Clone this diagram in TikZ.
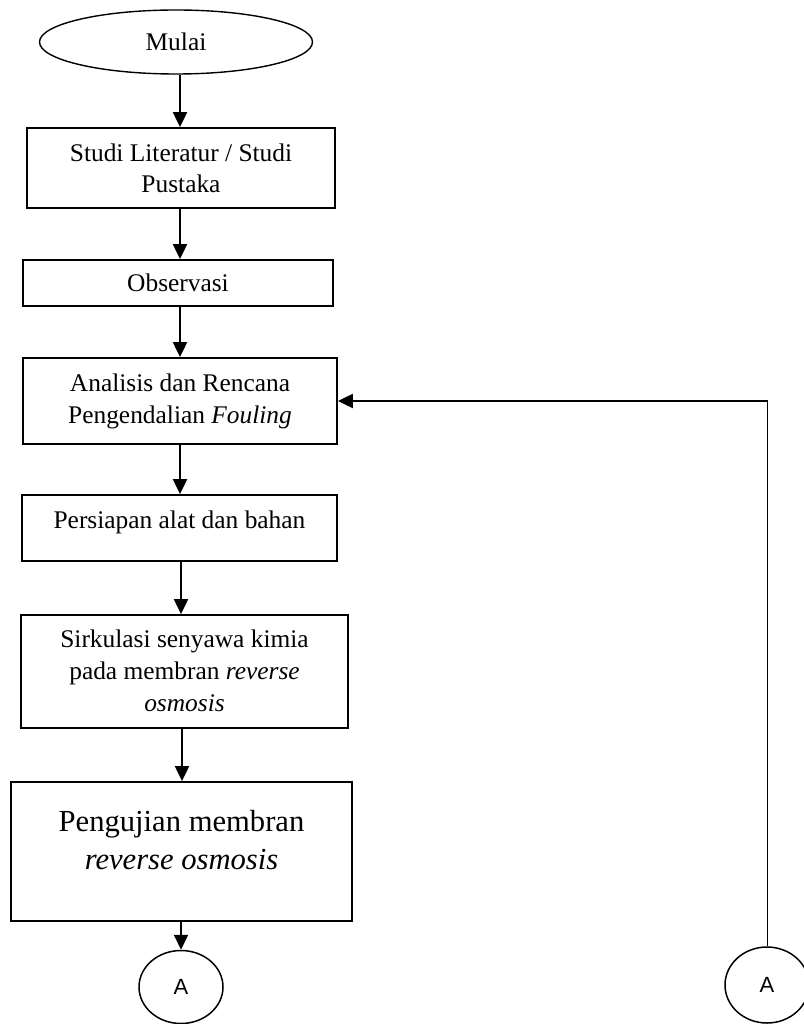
\documentclass[tikz,border=0pt]{standalone}
\usepackage{fontspec}
\setmainfont{Liberation Serif}
\newfontfamily\arialf{Liberation Sans}
\usetikzlibrary{shapes.geometric,arrows.meta,calc}
\begin{document}
\begin{tikzpicture}[x=1pt,y=-1pt,
  box/.style={draw,line width=1.8pt,rectangle,inner sep=0pt},
  txt/.style={align=center,inner sep=0pt,font=\fontsize{25.4}{31}\selectfont},
  arr/.style={line width=2pt,-{Triangle[width=14pt,length=15pt]}},
  conn/.style={draw,line width=1.5pt,ellipse,inner sep=0pt,font=\arialf\fontsize{22}{24}\selectfont}]
\useasboundingbox (0,0) rectangle (803,1024);
% start
\node[draw,line width=1.4pt,ellipse,minimum width=273pt,minimum height=64pt,inner sep=0pt,
  font=\fontsize{25.4}{31}\selectfont] (s) at (176,42) {Mulai};
% boxes
\node[box,minimum width=308pt,minimum height=80pt] (b2) at (181,168) {};
\node[txt] (t2) at (b2.center) {Studi Literatur / Studi\\Pustaka};
\node[box,minimum width=310pt,minimum height=46pt] (b3) at (178,283) {};
\node[txt] (t3) at (b3.center) {Observasi};
\node[box,minimum width=314pt,minimum height=86pt] (b4) at (180,401) {};
\node[txt,font=\fontsize{25.4}{32}\selectfont] (t4) at (b4.center) {Analisis dan Rencana\\Pengendalian \textit{Fouling}};
\node[box,minimum width=315pt,minimum height=66pt] (b5) at (179.5,528) {};
\node[txt,anchor=base] (t5) at ($(b5.north)+(0,34)$) {Persiapan alat dan bahan};
\node[box,minimum width=327pt,minimum height=113pt] (b6) at (184.5,671.5) {};
\node[txt,anchor=base,font=\fontsize{25.4}{32}\selectfont] (t6) at ($(b6.north)+(0,97)$) {Sirkulasi senyawa kimia\\pada membran \textit{reverse}\\\textit{osmosis}};
\node[box,minimum width=341pt,minimum height=139pt] (b7) at (181.5,851.5) {};
\node[txt,anchor=base,font=\fontsize{30.6}{38}\selectfont] (t7) at ($(b7.north)+(0,88)$) {Pengujian membran\\\textit{reverse osmosis}};
% connectors A
\node[conn,minimum width=84pt,minimum height=73pt] (a1) at (181,987) {A};
\node[conn,minimum width=84pt,minimum height=76pt] (a2) at (767,985) {A};
% arrows
\draw[arr] (s.south -| 180,0) -- (b2.north -| 180,0);
\draw[arr] (b2.south -| 180,0) -- (b3.north -| 180,0);
\draw[arr] (b3.south -| 180,0) -- (b4.north -| 180,0);
\draw[arr] (b4.south -| 180,0) -- (b5.north -| 180,0);
\draw[arr] (b5.south -| 181,0) -- (b6.north -| 181,0);
\draw[arr] (b6.south -| 182,0) -- (b7.north -| 182,0);
\draw[arr] (b7.south -| a1.north) -- (a1.north);
% feedback
\coordinate (corner) at (a2.north |- b4.east);
\draw[line width=1pt] (a2.north) -- (corner);
\draw[arr] ([xshift=0.5pt]corner) -- (b4.east);
\end{tikzpicture}
\end{document}
